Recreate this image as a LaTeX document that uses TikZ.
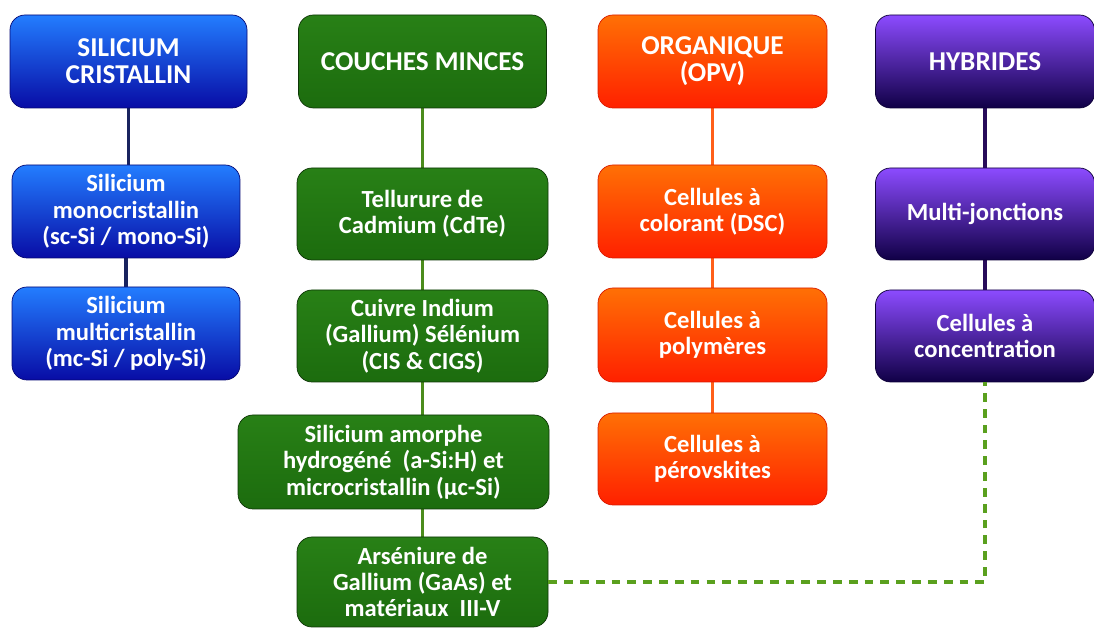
\documentclass[tikz,border=0pt]{standalone}
\usepackage{fontspec}
\setmainfont{Carlito}
\usetikzlibrary{backgrounds}

\definecolor{bluetop}{RGB}{35,125,255}
\definecolor{bluebot}{RGB}{8,12,165}
\definecolor{blueline}{RGB}{25,35,95}
\definecolor{greentop}{RGB}{40,128,22}
\definecolor{greenbot}{RGB}{28,108,14}
\definecolor{greenline}{RGB}{75,140,28}
\definecolor{dashgreen}{RGB}{90,160,30}
\definecolor{orangetop}{RGB}{255,112,5}
\definecolor{orangebot}{RGB}{255,32,0}
\definecolor{orangeline}{RGB}{255,95,25}
\definecolor{purpletop}{RGB}{140,75,255}
\definecolor{purplebot}{RGB}{16,0,70}
\definecolor{purpleline}{RGB}{40,12,90}

\tikzset{
  cell/.style={rounded corners=0.3cm, align=center, text=white, inner sep=2pt,
    font=\fontsize{14}{15}\selectfont\bfseries},
  head/.style={cell, font=\fontsize{15.5}{15.5}\selectfont\bfseries},
  bluebox/.style={top color=bluetop, bottom color=bluebot, draw=bluebot!70!black},
  greenbox/.style={top color=greentop, bottom color=greenbot, draw=greenbot!50!black},
  orangebox/.style={top color=orangetop, bottom color=orangebot, draw=orangebot!85!black},
  purplebox/.style={top color=purpletop, bottom color=purplebot, draw=purplebot!80!black},
  link/.style={line width=2pt},
  dashlink/.style={line width=2pt, dashgreen, dash pattern=on 5pt off 4pt}
}

\begin{document}
\begin{tikzpicture}[x=1cm,y=1cm]
\useasboundingbox (0,0) rectangle (21.88,12.56);

% silicium cristallin
\node[head,bluebox,minimum width=4.74cm,minimum height=1.86cm] (sicris) at (2.57,11.33) {SILICIUM\\CRISTALLIN};
\node[cell,bluebox,minimum width=4.56cm,minimum height=1.86cm] (mono) at (2.52,8.33) {Silicium\\monocristallin\\(sc-Si / mono-Si)};
\node[cell,bluebox,minimum width=4.56cm,minimum height=1.86cm] (multi) at (2.52,5.89) {Silicium\\multicristallin\\(mc-Si / poly-Si)};

% couches minces
\node[head,greenbox,minimum width=4.96cm,minimum height=1.86cm] (couches) at (8.45,11.33) {COUCHES MINCES};
\node[cell,greenbox,minimum width=5.02cm,minimum height=1.84cm] (cdte) at (8.45,8.28) {Tellurure de\\Cadmium (CdTe)};
\node[cell,greenbox,minimum width=5.02cm,minimum height=1.84cm] (cigs) at (8.45,5.84) {Cuivre Indium\\(Gallium) Sélénium\\(CIS \& CIGS)};
\node[cell,greenbox,minimum width=6.22cm,minimum height=1.88cm] (asi) at (7.87,3.32) {Silicium amorphe\\hydrogéné~~(a-Si:H) et\\microcristallin (µc-Si)};
\node[cell,greenbox,minimum width=5.02cm,minimum height=1.80cm] (gaas) at (8.45,0.92) {Arséniure de\\Gallium (GaAs) et\\matériaux~~III-V};

% organique
\node[head,orangebox,minimum width=4.58cm,minimum height=1.86cm] (orga) at (14.25,11.33) {ORGANIQUE\\(OPV)};
\node[cell,orangebox,minimum width=4.58cm,minimum height=1.86cm] (dsc) at (14.25,8.33) {Cellules à\\colorant (DSC)};
\node[cell,orangebox,minimum width=4.58cm,minimum height=1.88cm] (poly) at (14.25,5.86) {Cellules à\\polymères};
\node[cell,orangebox,minimum width=4.58cm,minimum height=1.84cm] (pero) at (14.25,3.38) {Cellules à\\pérovskites};

% hybrides
\node[head,purplebox,minimum width=4.38cm,minimum height=1.86cm] (hybr) at (19.70,11.33) {HYBRIDES};
\node[cell,purplebox,minimum width=4.38cm,minimum height=1.84cm] (mj) at (19.70,8.28) {Multi-jonctions};
\node[cell,purplebox,minimum width=4.38cm,minimum height=1.84cm] (conc) at (19.70,5.84) {Cellules à\\concentration};

\begin{scope}[on background layer]
\draw[link,blueline] (sicris.south) -- (sicris.south |- mono.north);
\draw[link,blueline] (mono) -- (multi);
\draw[link,greenline] (couches) -- (cdte) -- (cigs) -- (gaas);
\draw[link,orangeline] (orga) -- (dsc) -- (poly) -- (pero);
\draw[link,purpleline] (hybr) -- (mj) -- (conc);
\end{scope}

\draw[dashlink] (gaas.east) -| (conc.south);
\end{tikzpicture}
\end{document}
